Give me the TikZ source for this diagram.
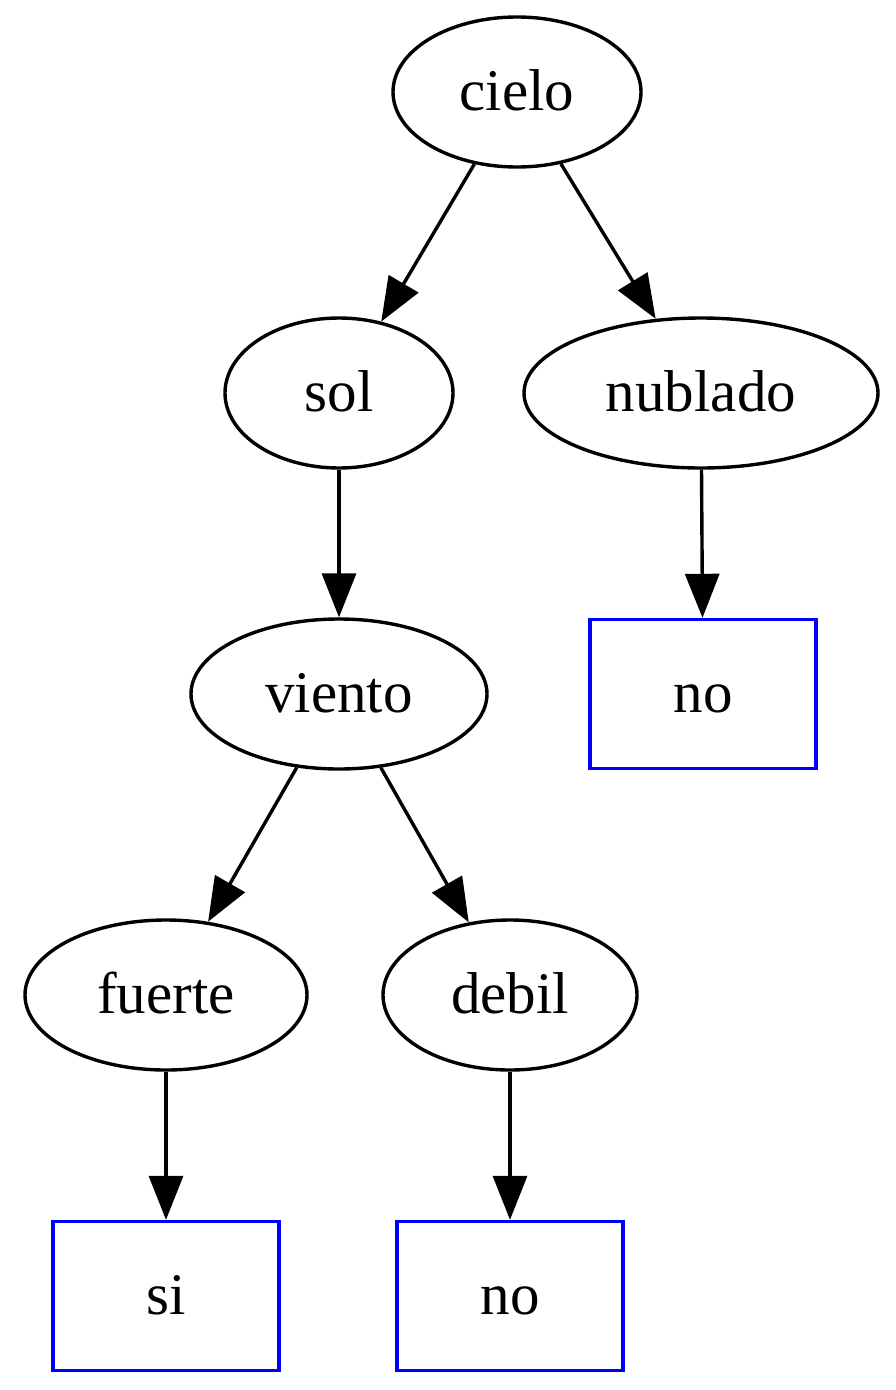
\documentclass[tikz,border=0pt]{standalone}
\usepackage{fontspec}
\setmainfont{Liberation Serif}
\usetikzlibrary{shapes.geometric,arrows.meta}
\begin{document}
\begin{tikzpicture}[x=1pt,y=-1pt,
  every node/.style={font=\fontsize{59}{64}\selectfont, line width=3.4pt, inner sep=0pt, text height=47pt, text depth=11pt},
  ell/.style={draw, ellipse},
  leaf/.style={draw=blue, rectangle, minimum width=226pt, minimum height=149pt},
  edge/.style={draw, line width=3.4pt, -{Triangle[length=44pt,width=34pt]}}]
\useasboundingbox (0,0) rectangle (896,1390);
\node[ell, minimum width=248pt, minimum height=150pt] (cielo) at (517,92) {cielo};
\node[ell, minimum width=228pt, minimum height=150pt] (sol) at (339,393) {sol};
\node[ell, minimum width=354pt, minimum height=150pt] (nublado) at (701,393) {nublado};
\node[ell, minimum width=296pt, minimum height=150pt] (viento) at (339,694) {viento};
\node[leaf] (no1) at (703,694) {no};
\node[ell, minimum width=282pt, minimum height=150pt] (fuerte) at (166,995) {fuerte};
\node[ell, minimum width=254pt, minimum height=150pt] (debil) at (510,995) {debil};
\node[leaf] (si) at (166,1296) {si};
\node[leaf] (no2) at (510,1296) {no};
\draw[edge] (cielo) -- (sol);
\draw[edge] (cielo) -- (nublado);
\draw[edge] (sol) -- (viento);
\draw[edge] (nublado) -- (no1);
\draw[edge] (viento) -- (fuerte);
\draw[edge] (viento) -- (debil);
\draw[edge] (fuerte) -- (si);
\draw[edge] (debil) -- (no2);
\end{tikzpicture}
\end{document}
